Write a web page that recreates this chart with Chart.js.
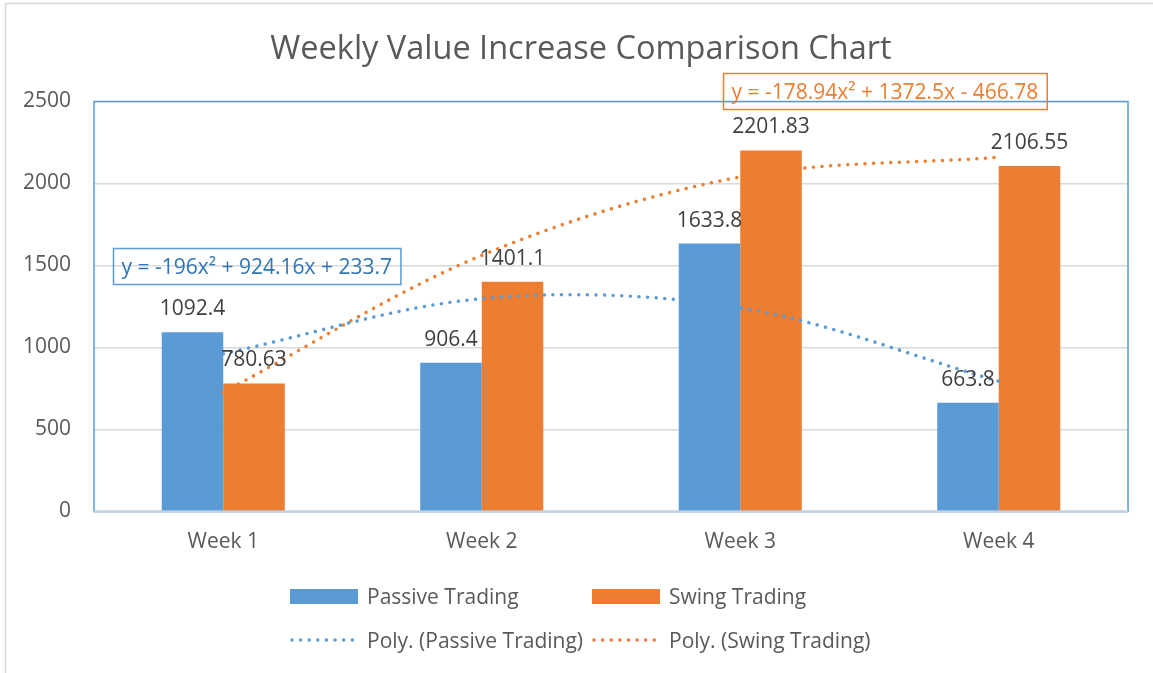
<!DOCTYPE html>
<html>
<head>
<meta charset="utf-8">
<script src="https://cdn.jsdelivr.net/npm/chart.js@4.4.1/dist/chart.umd.min.js"></script>
<style>
  body { margin: 0; background: #fff; }
</style>
</head>
<body>
<canvas id="weeklyChart" width="1153" height="673"></canvas>
<script>
// values
const weeks = ['Week 1', 'Week 2', 'Week 3', 'Week 4'];
const passiveValues = [1092.4, 906.4, 1633.8, 663.8];
const swingValues = [780.63, 1401.1, 2201.83, 2106.55];
// polynomial trendline heights at each week
const passiveTrend = [962, 1298, 1242, 794];
const swingTrend = [727, 1562, 2040, 2160];
const passiveEquation = 'y = -196x² + 924.16x + 233.7';
const swingEquation = 'y = -178.94x² + 1372.5x - 466.78';
const yTicks = [0, 500, 1000, 1500, 2000, 2500];

const blue = '#5b9bd5';
const orange = '#ed7d31';
const textGray = '#595959';
const fontFamily = '"Open Sans", sans-serif';

function drawDots(ctx, x1, x2, y, color) {
    ctx.save();
    ctx.strokeStyle = color;
    ctx.lineWidth = 3.5;
    ctx.lineCap = 'round';
    ctx.setLineDash([0.01, 8.6]);
    ctx.beginPath();
    ctx.moveTo(x1, y);
    ctx.lineTo(x2, y);
    ctx.stroke();
    ctx.restore();
}

function drawEquation(ctx, text, x, y, textColor, boxColor) {
    ctx.save();
    ctx.font = '21px ' + fontFamily;
    const w = ctx.measureText(text).width;
    ctx.strokeStyle = boxColor;
    ctx.lineWidth = 1.5;
    ctx.strokeRect(x + 0.5, y + 0.5, w + 17, 36);
    ctx.fillStyle = textColor;
    ctx.textBaseline = 'alphabetic';
    ctx.textAlign = 'left';
    ctx.fillText(text, x + 8.5, y + 26);
    ctx.restore();
}

const excelLook = {
    id: 'excelLook',
    afterLayout(chart) {
        // Excel centres the title over the whole chart frame, a bit right of ours
        if (chart.titleBlock) {
            chart.titleBlock.left += 17;
            chart.titleBlock.right += 17;
        }
    },
    afterDatasetsDraw(chart) {
        const { ctx, chartArea } = chart;
        const { left, right, top, bottom } = chartArea;

        // value labels above the bars
        ctx.save();
        ctx.font = '21px ' + fontFamily;
        ctx.fillStyle = '#404040';
        ctx.textAlign = 'center';
        ctx.textBaseline = 'alphabetic';
        chart.data.datasets.forEach((ds, i) => {
            if (ds.type !== 'bar') return;
            chart.getDatasetMeta(i).data.forEach((bar, j) => {
                ctx.fillText(String(ds.data[j]), bar.x, bar.y - 17);
            });
        });
        ctx.restore();

        // plot area frame
        ctx.save();
        ctx.strokeStyle = blue;
        ctx.lineWidth = 1.5;
        ctx.strokeRect(left, top, right - left, bottom - top);
        ctx.strokeStyle = '#c3d1e1';
        ctx.lineWidth = 2;
        ctx.beginPath();
        ctx.moveTo(left, bottom);
        ctx.lineTo(right, bottom);
        ctx.stroke();
        ctx.restore();

        drawEquation(ctx, passiveEquation, 113, 248, '#2f75b5', blue);
        drawEquation(ctx, swingEquation, 723, 73, orange, orange);
    },
    afterDraw(chart) {
        const { ctx } = chart;
        // legend in two aligned rows
        const cols = [290, 592];
        const rows = [596, 640];
        ctx.save();
        ctx.font = '21px ' + fontFamily;
        ctx.textAlign = 'left';
        ctx.textBaseline = 'alphabetic';
        chart.data.datasets.forEach((ds, i) => {
            const x = cols[i % 2];
            const y = rows[Math.floor(i / 2)];
            if (ds.type === 'bar') {
                ctx.fillStyle = ds.backgroundColor;
                ctx.fillRect(x, y - 7, 68, 15);
            } else {
                drawDots(ctx, x + 2, x + 68, y, ds.borderColor);
            }
            ctx.fillStyle = textGray;
            ctx.fillText(ds.label, x + 77, y + 7.5);
        });
        ctx.restore();

        // chart area outline
        ctx.save();
        ctx.strokeStyle = '#d9d9d9';
        ctx.lineWidth = 1.5;
        ctx.strokeRect(5.5, 3.5, 1200, 700);
        ctx.restore();
    }
};

const weeklyConfig = {
    data: {
        labels: weeks,
        datasets: [{
            type: 'bar',
            label: 'Passive Trading',
            data: passiveValues,
            backgroundColor: blue,
            categoryPercentage: 0.476,
            barPercentage: 1,
            order: 1
        }, {
            type: 'bar',
            label: 'Swing Trading',
            data: swingValues,
            backgroundColor: orange,
            categoryPercentage: 0.476,
            barPercentage: 1,
            order: 1
        }, {
            type: 'line',
            label: 'Poly. (Passive Trading)',
            data: passiveTrend,
            borderColor: blue,
            borderWidth: 3.5,
            borderDash: [0.01, 8.6],
            borderCapStyle: 'round',
            pointRadius: 0,
            tension: 0.333,
            fill: false,
            order: 0
        }, {
            type: 'line',
            label: 'Poly. (Swing Trading)',
            data: swingTrend,
            borderColor: orange,
            borderWidth: 3.5,
            borderDash: [0.01, 8.6],
            borderCapStyle: 'round',
            pointRadius: 0,
            tension: 0.333,
            fill: false,
            order: 0
        }]
    },
    options: {
        responsive: false,
        animation: false,
        layout: {
            padding: { left: 0, right: 25, top: 0, bottom: 101.5 }
        },
        plugins: {
            legend: { display: false },
            tooltip: { enabled: false },
            title: {
                display: true,
                text: 'Weekly Value Increase Comparison Chart',
                color: textGray,
                font: { family: fontFamily, size: 32.5, weight: 'normal', lineHeight: 1.2 },
                padding: { top: 30, bottom: 32.5 }
            }
        },
        scales: {
            x: {
                grid: { display: false, drawTicks: false },
                border: { display: false },
                ticks: {
                    color: textGray,
                    font: { family: fontFamily, size: 21 },
                    padding: 18
                },
                afterFit(scale) { scale.height = 60; }
            },
            y: {
                min: yTicks[0],
                max: yTicks[yTicks.length - 1],
                afterBuildTicks(scale) {
                    scale.ticks = yTicks.map(v => ({ value: v }));
                },
                grid: { color: '#d9d9d9', lineWidth: 1.5, drawTicks: false },
                border: { display: false },
                ticks: {
                    color: textGray,
                    font: { family: fontFamily, size: 21 },
                    padding: 23,
                    callback: (value) => String(value)
                },
                afterFit(scale) { scale.width = 94; }
            }
        }
    },
    plugins: [excelLook]
};

const weeklyChart = new Chart(
    document.getElementById('weeklyChart'),
    weeklyConfig
);
</script>
</body>
</html>
